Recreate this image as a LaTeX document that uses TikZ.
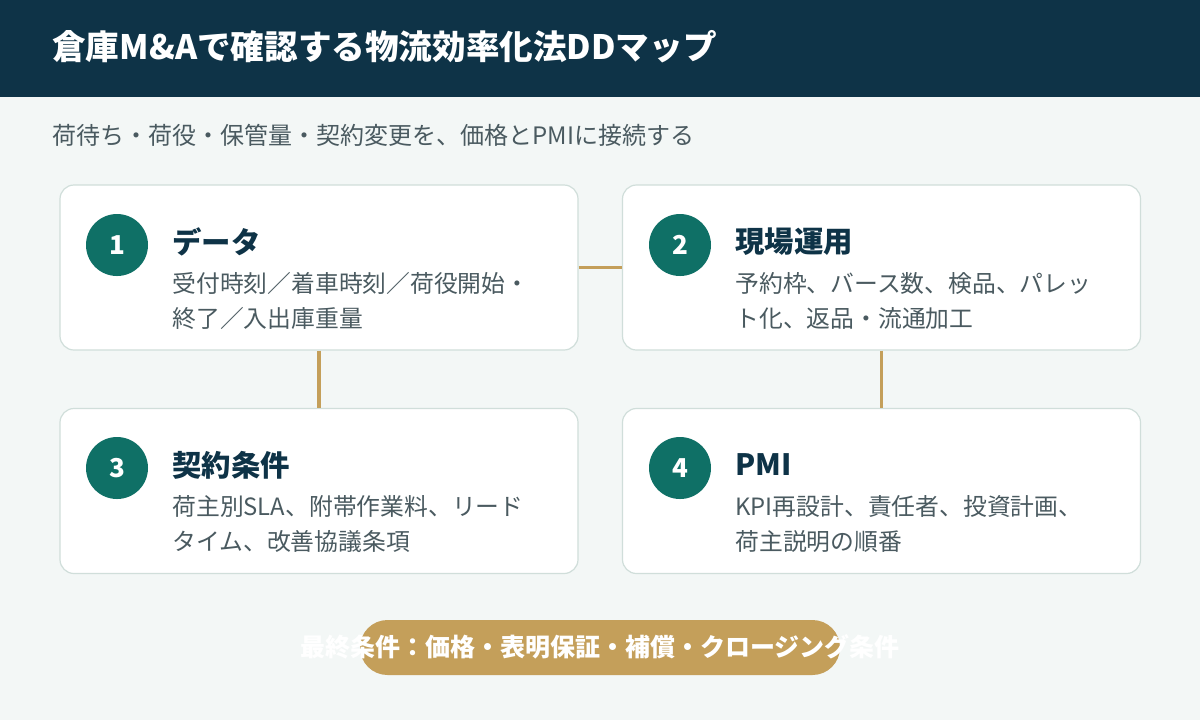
\documentclass[tikz,border=0pt]{standalone}
\usepackage{fontspec}
\setmainfont{Noto Sans CJK JP}
\usetikzlibrary{positioning}
\definecolor{navy}{HTML}{0E3347}
\definecolor{teal}{HTML}{0F7066}
\definecolor{gold}{HTML}{C49F5A}
\definecolor{bg}{HTML}{F3F7F6}
\definecolor{edge}{HTML}{D0DEDA}
\definecolor{body}{HTML}{4A5A60}
\tikzset{
  card/.style={draw=edge, line width=0.6pt, fill=white, rounded corners=7pt, minimum width=259pt, minimum height=82.5pt},
  num/.style={circle, fill=teal, text=white, minimum size=31pt, inner sep=0pt, font=\fontsize{13}{13}\selectfont\bfseries},
  head/.style={anchor=west, text=navy, inner sep=0pt, font=\fontsize{14.7}{14.7}\selectfont\bfseries},
  txt/.style={anchor=north west, text=body, inner sep=0pt, align=left, font=\fontsize{11.9}{17.5}\selectfont},
  link/.style={gold, line width=1.6pt}
}
\begin{document}
\begin{tikzpicture}[x=0.5pt,y=-0.5pt]
\fill[bg] (0,0) rectangle (1200,720);
\fill[navy] (0,0) rectangle (1200,97);
\useasboundingbox (0,0) rectangle (1200,720);

\node[anchor=west, text=white, inner sep=0pt, font=\fontsize{16.8}{16.8}\selectfont\bfseries] (title) at (52,47) {倉庫M\&Aで確認する物流効率化法DDマップ};
\node[anchor=west, text=body, inner sep=0pt, font=\fontsize{12}{12}\selectfont] (sub) at (52,135) {荷待ち・荷役・保管量・契約変更を、価格とPMIに接続する};

\node[card] (c1) at (319,267.5) {};
\node[card] (c2) at (881.5,267.5) {};
\node[card] (c3) at (319,491) {};
\node[card] (c4) at (881.5,491) {};

\draw[link] (c1.east) -- (c2.west);
\draw[link] (c1.south) -- (c3.north);
\draw[link] (c2.south) -- (c4.north);

\node[num] (n1) at (117,245) {1};
\node[head] (h1) at (172,242) {データ};
\node[txt] (t1) at (172,272) {受付時刻／着車時刻／荷役開始・\\終了／入出庫重量};

\node[num] (n2) at (680,245) {2};
\node[head] (h2) at (735,242) {現場運用};
\node[txt] (t2) at (735,272) {予約枠、バース数、検品、パレッ\\ト化、返品・流通加工};

\node[num] (n3) at (117,468) {3};
\node[head] (h3) at (172,465) {契約条件};
\node[txt] (t3) at (172,495) {荷主別SLA、附帯作業料、リード\\タイム、改善協議条項};

\node[num] (n4) at (680,468) {4};
\node[head] (h4) at (735,465) {PMI};
\node[txt] (t4) at (735,495) {KPI再設計、責任者、投資計画、\\荷主説明の順番};

\node[fill=gold, rounded corners=13.75pt, minimum width=240pt, minimum height=27.5pt] (pill) at (600,647.5) {};
\node[text=white, inner sep=0pt, font=\fontsize{12.5}{12.5}\selectfont\bfseries] (final) at (600,647) {最終条件：価格・表明保証・補償・クロージング条件};
\end{tikzpicture}
\end{document}
